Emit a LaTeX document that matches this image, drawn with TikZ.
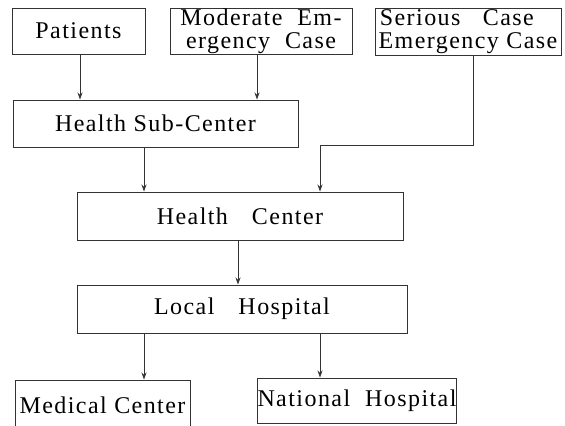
\documentclass[tikz,border=0pt]{standalone}
\usepackage{fontspec}
\setmainfont{Liberation Serif}[LetterSpace=6]
\usepackage{tikz}
\usetikzlibrary{calc,positioning,arrows.meta}

\tikzset{
  careunit/.style={draw=black!80, line width=0.5pt, rectangle, inner sep=0pt, align=center,
                   font=\fontsize{12}{11.5}\selectfont},
  referral/.style={draw=black!80, line width=0.4pt, -{Stealth[length=3.5pt,width=2.5pt]}}
}

\begin{document}
\begin{tikzpicture}[x=0.5pt, y=-0.5pt]
				 %\draw[color=gray,step=10, help lines,opacity=0.3] (0,0) grid (565,425); %help grids
				 \useasboundingbox (0,0) rectangle (565,425);
				 \begin{scope}
				 \clip (0,0) rectangle (565,425);
				 % first level
				 \node[careunit, minimum width=66.5pt, minimum height=23pt] (pat) at (78.5,31) {Patients};
				 \node[careunit, minimum width=91pt, minimum height=23pt] (mod) at (261,31) {Moderate\ \ Em-\\ergency\ \ Case};
				 \node[careunit, minimum width=93pt, minimum height=23.5pt] (ser) at (468,31.5) {Serious\ \ \ Case\ \ \ \ \\Emergency\ Case};
				 % health units
				 \node[careunit, minimum width=142.5pt, minimum height=23.5pt] (sub) at (155.5,123.5) {Health Sub-Center};
				 \node[careunit, minimum width=163pt, minimum height=24pt] (hc) at (240,216) {Health\quad Center};
				 \node[careunit, minimum width=165pt, minimum height=24pt] (lh) at (242,309) {Local\quad Hospital};
				 % last level
				 \node[careunit, minimum width=87.5pt, minimum height=30pt] (mc) at (102.5,410) {\raisebox{5pt}{Medical Center}};
				 \node[careunit, minimum width=99pt, minimum height=22.5pt] (nh) at (357,400.5) {National\ \ Hospital};
				 % referrals
				 \draw[referral] (pat.south -| 80,0) -- (sub.north -| 80,0);
				 \draw[referral] (mod.south -| 257,0) -- (sub.north -| 257,0);
				 \coordinate (bend) at (473,145);
				 \draw[referral] (ser.south -| bend) -- (bend) -| (hc.north -| 320,0);
				 \draw[referral] (sub.south -| 144,0) -- (hc.north -| 144,0);
				 \draw[referral] (hc.south -| 238,0) -- (lh.north -| 238,0);
				 \draw[referral] (lh.south -| 144,0) -- (mc.north -| 144,0);
				 \draw[referral] (lh.south -| 320,0) -- (nh.north -| 320,0);
				 \end{scope}
				\end{tikzpicture}
\end{document}
